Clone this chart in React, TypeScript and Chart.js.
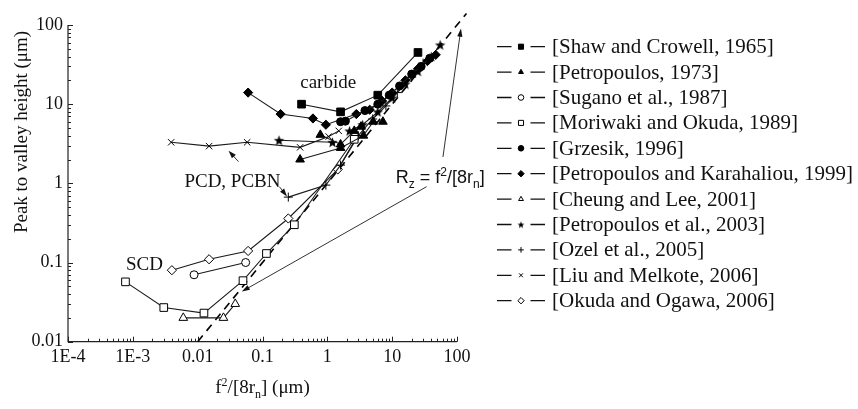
import React, { useEffect, useRef } from 'react';
import { Chart, registerables } from 'chart.js';
import { drawPoint } from 'chart.js/helpers';

Chart.register(...registerables);

const SERIF = '"Liberation Serif", "Times New Roman", serif';
const SANS = '"Liberation Sans", Arial, sans-serif';

// ---- data (x = f^2/[8rn] in µm, y = peak-to-valley height in µm) ----
type P = [number, number] | null;

const shawCrowell1965: P[] = [[0.4, 10], [1.6, 8], [6, 13], [25, 45]];
const petropoulos1973: P[] = [[0.38, 2.0], [1.6, 2.8], [3.6, 4.0], [5.1, 6.0], [7.2, 6.0], null, [0.78, 4.1], [1.6, 3.1], [2.6, 4.6], [3.3, 5.2]];
const sugano1987: P[] = [[0.0088, 0.07], [0.055, 0.1]];
const moriwakiOkuda1989: P[] = [[0.00077, 0.057], [0.003, 0.027], [0.0125, 0.023], [0.05, 0.059], [0.115, 0.13], [0.31, 0.3], [2.6, 3.6]];
const grzesik1996: P[] = [[1.6, 6.0], [1.9, 6.1], [3.8, 8.3], [6, 10], [9, 13], [13, 17], [20, 24], [28, 30], [38, 38]];
const petropoulosKarahaliou1999: P[] = [[0.06, 14], [0.19, 7.5], [0.6, 6.6], [0.95, 5.5], [2.8, 7.5], [4.5, 8.5], [7, 11], [10, 14], [16, 20], [25, 28], [35, 35], [47, 42]];
const cheungLee2001: P[] = [[0.006, 0.02], [0.025, 0.02], [0.038, 0.03]];
const petropoulos2003: P[] = [[0.18, 3.5], [1.2, 3.3], null, [2.2, 4.6], [3.5, 5.5], [6, 8], [10, 12], [16, 18], [25, 26], [40, 40], [55, 56]];
const ozel2005: P[] = [[0.25, 0.67], [0.95, 0.95], [1.6, 1.7], [3, 4], [5, 6.5], [8, 9.5], [12, 14], [20, 22], [30, 33]];
const liuMelkote2006: P[] = [[0.0039, 3.3], [0.015, 2.95], [0.058, 3.3], [0.38, 2.85], [1.05, 3.9], [1.5, 4.6]];
const okudaOgawa2006: P[] = [[0.004, 0.08], [0.015, 0.11], [0.06, 0.14], [0.25, 0.36], [1.45, 1.5], [3.2, 4.5]];
const rzLine: P[] = [[0.01, 0.01], [140, 140]];

const seriesNames = [
  '[Shaw and Crowell, 1965]',
  '[Petropoulos, 1973]',
  '[Sugano et al., 1987]',
  '[Moriwaki and Okuda, 1989]',
  '[Grzesik, 1996]',
  '[Petropoulos and Karahaliou, 1999]',
  '[Cheung and Lee, 2001]',
  '[Petropoulos et al., 2003]',
  '[Ozel et al., 2005]',
  '[Liu and Melkote, 2006]',
  '[Okuda and Ogawa, 2006]',
];
const seriesData = [
  shawCrowell1965, petropoulos1973, sugano1987, moriwakiOkuda1989, grzesik1996,
  petropoulosKarahaliou1999, cheungLee2001, petropoulos2003, ozel2005, liuMelkote2006, okudaOgawa2006,
];
const seriesMarkers = ['rect', 'triangle', 'circle', 'rect', 'circle', 'rectRot', 'triangle', 'star', 'cross', 'crossRot', 'rectRot'];
const seriesFilled = [true, true, false, false, true, true, false, true, false, false, false];

const xTickValues = [1e-4, 1e-3, 0.01, 0.1, 1, 10, 100];
const xTickLabels = ['1E-4', '1E-3', '0.01', '0.1', '1', '10', '100'];
const yTickValues = [0.01, 0.1, 1, 10, 100];
const yTickLabels = ['0.01', '0.1', '1', '10', '100'];

// annotations in data coordinates
const textNotes = [
  { text: 'carbide', x: 1.03, y: 18.7 },
  { text: 'PCD, PCBN', x: 0.0344, y: 1.05 },
  { text: 'SCD', x: 0.00151, y: 0.093 },
];
const arrowNotes = [
  { from: [0.0426, 1.88], to: [0.0299, 2.59] },
  { from: [0.182, 0.908], to: [0.239, 0.684] },
  { from: [34, 0.908], to: [0.048, 0.043] },
  { from: [60.7, 2.15], to: [115, 90] },
];
const rzLabelAt = { x: 11.4, y: 1.2 };

function makeStar(r: number): HTMLCanvasElement {
  const c = document.createElement('canvas');
  const s = Math.ceil(2 * r + 2);
  c.width = s; c.height = s;
  const g = c.getContext('2d')!;
  g.fillStyle = '#000';
  g.beginPath();
  for (let i = 0; i < 10; i++) {
    const rad = i % 2 === 0 ? r : r * 0.42;
    const a = -Math.PI / 2 + (i * Math.PI) / 5;
    const px = s / 2 + rad * Math.cos(a);
    const py = s / 2 + 0.5 + rad * Math.sin(a);
    if (i === 0) g.moveTo(px, py); else g.lineTo(px, py);
  }
  g.closePath();
  g.fill();
  return c;
}

type Part = { t: string; k?: 'sub' | 'sup' };
function richText(ctx: CanvasRenderingContext2D, parts: Part[], x: number, y: number, family: string, size: number, align: 'left' | 'center') {
  const small = Math.round(size * 0.65);
  let w = 0;
  for (const p of parts) {
    ctx.font = `${p.k ? small : size}px ${family}`;
    w += ctx.measureText(p.t).width;
  }
  let cx = align === 'center' ? x - w / 2 : x;
  ctx.textAlign = 'left';
  ctx.textBaseline = 'alphabetic';
  for (const p of parts) {
    ctx.font = `${p.k ? small : size}px ${family}`;
    const dy = p.k === 'sup' ? -size * 0.38 : p.k === 'sub' ? size * 0.25 : 0;
    ctx.fillText(p.t, cx, y + dy);
    cx += ctx.measureText(p.t).width;
  }
}

function arrow(ctx: CanvasRenderingContext2D, x1: number, y1: number, x2: number, y2: number) {
  const ang = Math.atan2(y2 - y1, x2 - x1);
  const hl = 8, hw = 2.6;
  ctx.beginPath();
  ctx.moveTo(x1, y1);
  ctx.lineTo(x2 - hl * 0.7 * Math.cos(ang), y2 - hl * 0.7 * Math.sin(ang));
  ctx.stroke();
  ctx.beginPath();
  ctx.moveTo(x2, y2);
  ctx.lineTo(x2 - hl * Math.cos(ang) + hw * Math.sin(ang), y2 - hl * Math.sin(ang) - hw * Math.cos(ang));
  ctx.lineTo(x2 - hl * Math.cos(ang) - hw * Math.sin(ang), y2 - hl * Math.sin(ang) + hw * Math.cos(ang));
  ctx.closePath();
  ctx.fill();
}

export default function App() {
  const ref = useRef<HTMLCanvasElement>(null);

  useEffect(() => {
    const canvas = ref.current!;
    const starBig = makeStar(5.5);
    const starSmall = makeStar(3.6);
    const toPts = (arr: P[]) => arr.map((p) => (p ? { x: p[0], y: p[1] } : { x: NaN, y: NaN }));
    const radiusFor = (m: string) => (m === 'triangle' ? 5 : m === 'rectRot' ? 4.6 : m === 'rect' ? 5.4 : m === 'cross' || m === 'crossRot' ? 4.5 : 4);

    const datasets: any[] = seriesData.map((arr, i) => ({
      label: seriesNames[i],
      data: toPts(arr),
      showLine: true,
      borderColor: '#1a1a1a',
      borderWidth: 1.1,
      tension: 0,
      pointStyle: seriesMarkers[i] === 'star' ? starBig : seriesMarkers[i],
      pointRadius: radiusFor(seriesMarkers[i]),
      pointBorderWidth: 1,
      pointBorderColor: '#000',
      pointBackgroundColor: seriesFilled[i] ? '#000' : '#fff',
      spanGaps: false,
    }));
    datasets.push({
      label: 'Rz',
      data: toPts(rzLine),
      showLine: true,
      borderColor: '#000',
      borderWidth: 1.6,
      borderDash: [8, 6],
      pointRadius: 0,
      clip: false,
    });

    const decor = {
      id: 'decor',
      beforeDatasetsDraw(chart: any) {
        const ctx: CanvasRenderingContext2D = chart.ctx;
        const { left, right, top, bottom } = chart.chartArea;
        const xs = chart.scales.x, ys = chart.scales.y;
        ctx.save();
        ctx.strokeStyle = '#222';
        ctx.lineWidth = 1.2;
        ctx.beginPath();
        ctx.moveTo(left, top); ctx.lineTo(left, bottom); ctx.lineTo(right, bottom);
        ctx.stroke();
        ctx.lineWidth = 1;
        ctx.beginPath();
        for (let e = -4; e <= 2; e++) {
          for (let m = 1; m <= 9; m++) {
            const v = m * Math.pow(10, e);
            if (v > 100 * 1.0001) break;
            const px = Math.round(xs.getPixelForValue(v)) + 0.5;
            const len = m === 1 ? 5 : 3;
            ctx.moveTo(px, bottom); ctx.lineTo(px, bottom - len);
          }
        }
        for (let e = -2; e <= 2; e++) {
          for (let m = 1; m <= 9; m++) {
            const v = m * Math.pow(10, e);
            if (v > 100 * 1.0001) break;
            const py = Math.round(ys.getPixelForValue(v)) + 0.5;
            const len = m === 1 ? 5 : 3;
            ctx.moveTo(left, py); ctx.lineTo(left + len, py);
          }
        }
        ctx.stroke();
        ctx.restore();
      },
      afterDatasetsDraw(chart: any) {
        const ctx: CanvasRenderingContext2D = chart.ctx;
        const xs = chart.scales.x, ys = chart.scales.y;
        const { left, right } = chart.chartArea;
        ctx.save();
        ctx.fillStyle = '#111';
        ctx.strokeStyle = '#333';
        ctx.lineWidth = 1;
        for (const a of arrowNotes) {
          arrow(ctx, xs.getPixelForValue(a.from[0]), ys.getPixelForValue(a.from[1]), xs.getPixelForValue(a.to[0]), ys.getPixelForValue(a.to[1]));
        }
        ctx.font = `19px ${SERIF}`;
        ctx.textAlign = 'center';
        ctx.textBaseline = 'middle';
        for (const t of textNotes) {
          ctx.fillText(t.text, xs.getPixelForValue(t.x), ys.getPixelForValue(t.y));
        }
        richText(ctx, [{ t: 'R' }, { t: 'z', k: 'sub' }, { t: ' = f' }, { t: '2', k: 'sup' }, { t: '/[8r' }, { t: 'n', k: 'sub' }, { t: ']' }],
          xs.getPixelForValue(rzLabelAt.x), ys.getPixelForValue(rzLabelAt.y) + 6, SANS, 18, 'left');
        // axis titles
        richText(ctx, [{ t: 'f' }, { t: '2', k: 'sup' }, { t: '/[8r' }, { t: 'n', k: 'sub' }, { t: '] (μm)' }],
          (left + right) / 2, 393, SERIF, 19, 'center');
        ctx.save();
        ctx.translate(22, 132);
        ctx.rotate(-Math.PI / 2);
        ctx.font = `19px ${SERIF}`;
        ctx.textAlign = 'center';
        ctx.textBaseline = 'middle';
        ctx.fillText('Peak to valley height (μm)', 0, 0);
        ctx.restore();
        ctx.restore();
      },
      afterDraw(chart: any) {
        const ctx: CanvasRenderingContext2D = chart.ctx;
        ctx.save();
        for (let i = 0; i < seriesNames.length; i++) {
          const y = 46.7 + i * 25.4;
          ctx.strokeStyle = '#111';
          ctx.lineWidth = 1.3;
          ctx.beginPath();
          ctx.moveTo(497, y); ctx.lineTo(511.5, y);
          ctx.moveTo(530.5, y); ctx.lineTo(545, y);
          ctx.stroke();
          ctx.lineWidth = 1;
          ctx.strokeStyle = '#000';
          ctx.fillStyle = seriesFilled[i] ? '#000' : '#fff';
          const m = seriesMarkers[i];
          const ps = m === 'star' ? starSmall : m;
          const r = m === 'rectRot' ? 3.2 : m === 'rect' ? 3.6 : 2.8;
          drawPoint(ctx, { pointStyle: ps, rotation: 0, radius: r, borderWidth: 1 } as any, 521, y);
          ctx.fillStyle = '#111';
          ctx.font = `21px ${SERIF}`;
          ctx.textAlign = 'left';
          ctx.textBaseline = 'middle';
          ctx.fillText(seriesNames[i], 552, y + 1);
        }
        ctx.restore();
      },
    };

    const chart = new Chart(canvas, {
      type: 'scatter',
      data: { datasets },
      plugins: [decor],
      options: {
        responsive: false,
        animation: false,
        devicePixelRatio: 1,
        layout: { padding: { left: 0, top: 25, right: 401, bottom: 0 } },
        plugins: { legend: { display: false }, tooltip: { enabled: false } },
        scales: {
          x: {
            type: 'logarithmic',
            min: 1e-4,
            max: 100,
            afterFit: (s: any) => { s.height = 409 - 341.7; },
            afterBuildTicks: (s: any) => { s.ticks = xTickValues.map((v) => ({ value: v })); },
            grid: { display: false, drawTicks: false },
            border: { display: false },
            ticks: {
              autoSkip: false,
              maxRotation: 0,
              padding: 5,
              color: '#111',
              font: { family: SERIF, size: 18 },
              callback: (v: any) => { const i = xTickValues.findIndex((t) => Math.abs(Math.log10(t) - Math.log10(v)) < 1e-6); return i >= 0 ? xTickLabels[i] : ''; },
            },
          },
          y: {
            type: 'logarithmic',
            min: 0.01,
            max: 100,
            afterFit: (s: any) => { s.width = 68; },
            afterBuildTicks: (s: any) => { s.ticks = yTickValues.map((v) => ({ value: v })); },
            grid: { display: false, drawTicks: false },
            border: { display: false },
            ticks: {
              autoSkip: false,
              padding: 5,
              color: '#111',
              font: { family: SERIF, size: 18 },
              callback: (v: any) => { const i = yTickValues.findIndex((t) => Math.abs(Math.log10(t) - Math.log10(v)) < 1e-6); return i >= 0 ? yTickLabels[i] : ''; },
            },
          },
        },
      } as any,
    });
    return () => chart.destroy();
  }, []);

  return (
    <div style={{ position: 'fixed', left: 0, top: 0, width: 858, height: 409, background: '#fff' }}>
      <canvas ref={ref} width={858} height={409} style={{ width: 858, height: 409 }} />
    </div>
  );
}
